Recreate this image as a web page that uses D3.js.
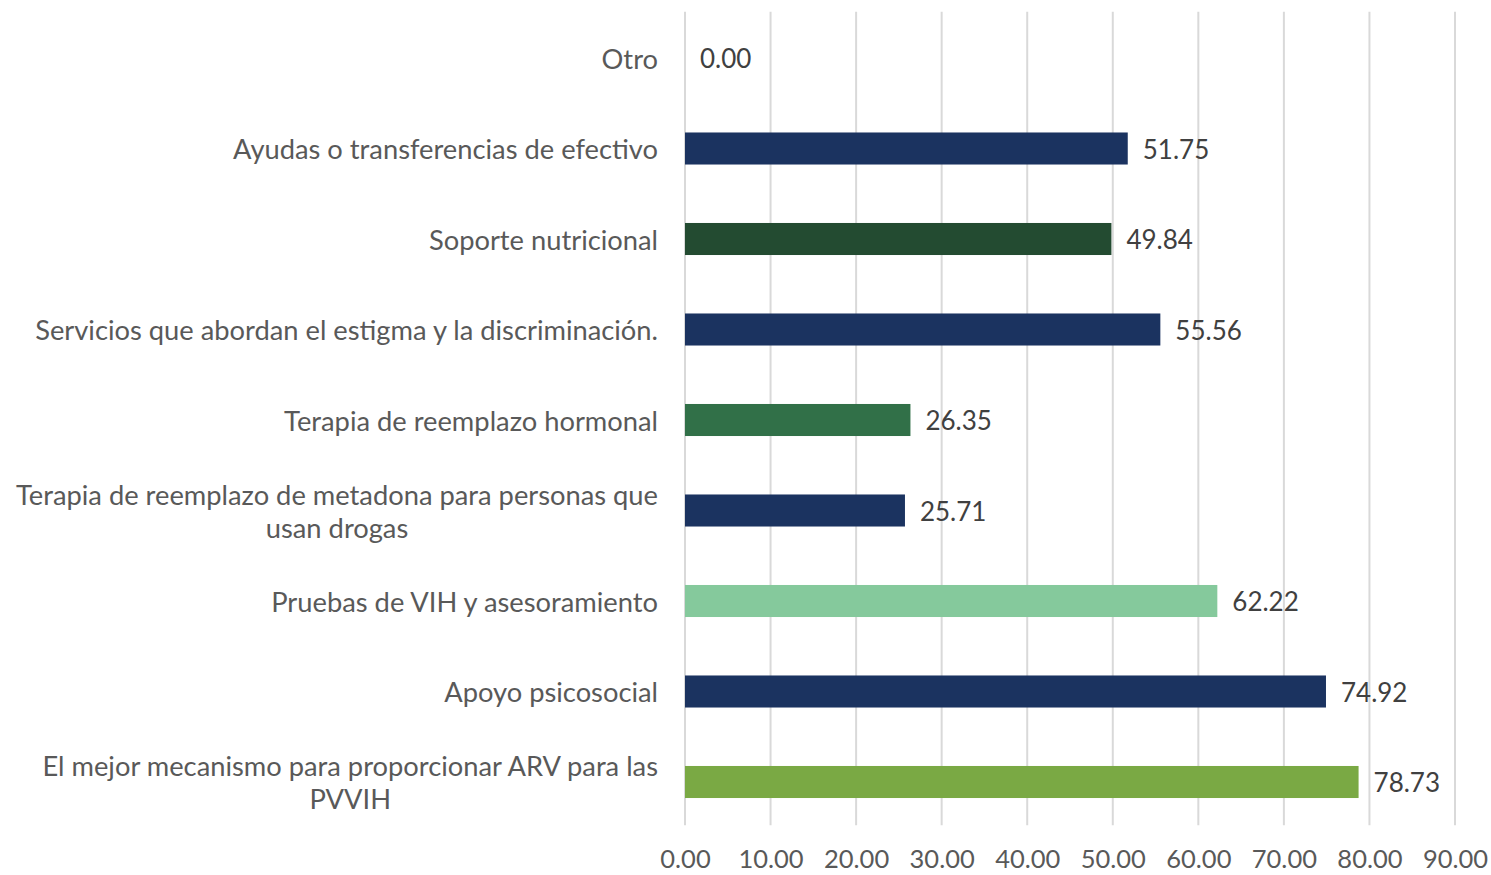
<!DOCTYPE html>
<html>
<head>
<meta charset="utf-8">
<script src="https://cdn.jsdelivr.net/npm/d3@7"></script>
<style>
  body { margin: 0; background: #fff; }
  text { font-family: "Lato", "Open Sans", sans-serif; }
</style>
</head>
<body>
<div id="chart"></div>
<script>
// categories top to bottom, each line of the label kept apart
var categories = [
  ["Otro"],
  ["Ayudas o transferencias de efectivo"],
  ["Soporte nutricional"],
  ["Servicios que abordan el estigma y la discriminación."],
  ["Terapia de reemplazo hormonal"],
  ["Terapia de reemplazo de metadona para personas que", "usan drogas"],
  ["Pruebas de VIH y asesoramiento"],
  ["Apoyo psicosocial"],
  ["El mejor mecanismo para proporcionar ARV para las", "PVVIH"]
];
var values = [0.00, 51.75, 49.84, 55.56, 26.35, 25.71, 62.22, 74.92, 78.73];
var barColors = ["#1b3360", "#1b3360", "#234b31", "#1b3360", "#317048", "#1b3360", "#85c99c", "#1b3360", "#7aa944"];
var tickValues = [0, 10, 20, 30, 40, 50, 60, 70, 80, 90];

var svgWidth = 1491, svgHeight = 875;
var margin = {top: 12.75, left: 685, right: 36, bottom: 47.75};

var svg = d3.select("#chart").append("svg")
  .attr("width", svgWidth)
  .attr("height", svgHeight);

var xScale = d3.scaleLinear()
  .domain([0, 90])
  .range([margin.left, svgWidth - margin.right]);

var yScale = d3.scaleBand()
  .domain(d3.range(categories.length))
  .range([margin.top, svgHeight - margin.bottom])
  .paddingInner(0.646)
  .paddingOuter(0.323);

// vertical gridlines
svg.append("g")
  .selectAll("line")
  .data(tickValues)
  .enter()
  .append("line")
  .attr("x1", function(d) { return xScale(d); })
  .attr("x2", function(d) { return xScale(d); })
  .attr("y1", margin.top - 1)
  .attr("y2", svgHeight - margin.bottom - 2)
  .attr("stroke", "#d9d9d9")
  .attr("stroke-width", 2);

// x axis tick labels
var xAxis = svg.append("g")
  .attr("transform", "translate(0," + (svgHeight - margin.bottom) + ")")
  .call(d3.axisBottom(xScale).tickValues(tickValues).tickSize(0).tickPadding(23)
    .tickFormat(d3.format(".2f")));
xAxis.select(".domain").remove();
xAxis.selectAll("text")
  .attr("fill", "#595959")
  .style("font-size", "25.5px")
  .style("font-family", "Lato, sans-serif");

// bars
svg.append("g")
  .selectAll("rect")
  .data(values)
  .enter()
  .append("rect")
  .attr("x", xScale(0))
  .attr("y", function(d, i) { return yScale(i); })
  .attr("width", function(d) { return xScale(d) - xScale(0); })
  .attr("height", yScale.bandwidth())
  .attr("fill", function(d, i) { return barColors[i]; });

// value labels
svg.append("g")
  .selectAll("text")
  .data(values)
  .enter()
  .append("text")
  .attr("x", function(d) { return xScale(d) + 15; })
  .attr("y", function(d, i) { return yScale(i) + yScale.bandwidth() / 2 + 1; })
  .attr("dy", "0.35em")
  .attr("fill", "#404040")
  .style("font-size", "26px")
  .text(function(d) { return d.toFixed(2); });

// category labels, multi-line ones centred on their widest line
var labelRight = 658, lineHeight = 33;
var labelGroups = svg.append("g")
  .selectAll("g")
  .data(categories)
  .enter()
  .append("g");

labelGroups.each(function(lines, i) {
  var g = d3.select(this);
  var cy = yScale(i) + yScale.bandwidth() / 2 + 1;
  var texts = lines.map(function(line, j) {
    return g.append("text")
      .attr("y", cy + (j - (lines.length - 1) / 2) * lineHeight)
      .attr("dy", "0.35em")
      .attr("fill", "#595959")
      .style("font-size", "27.3px")
      .text(line);
  });
  var widest = d3.max(texts, function(t) { return t.node().getComputedTextLength(); });
  var centre = labelRight - widest / 2;
  texts.forEach(function(t) {
    t.attr("x", centre).attr("text-anchor", "middle");
  });
});
</script>
</body>
</html>
